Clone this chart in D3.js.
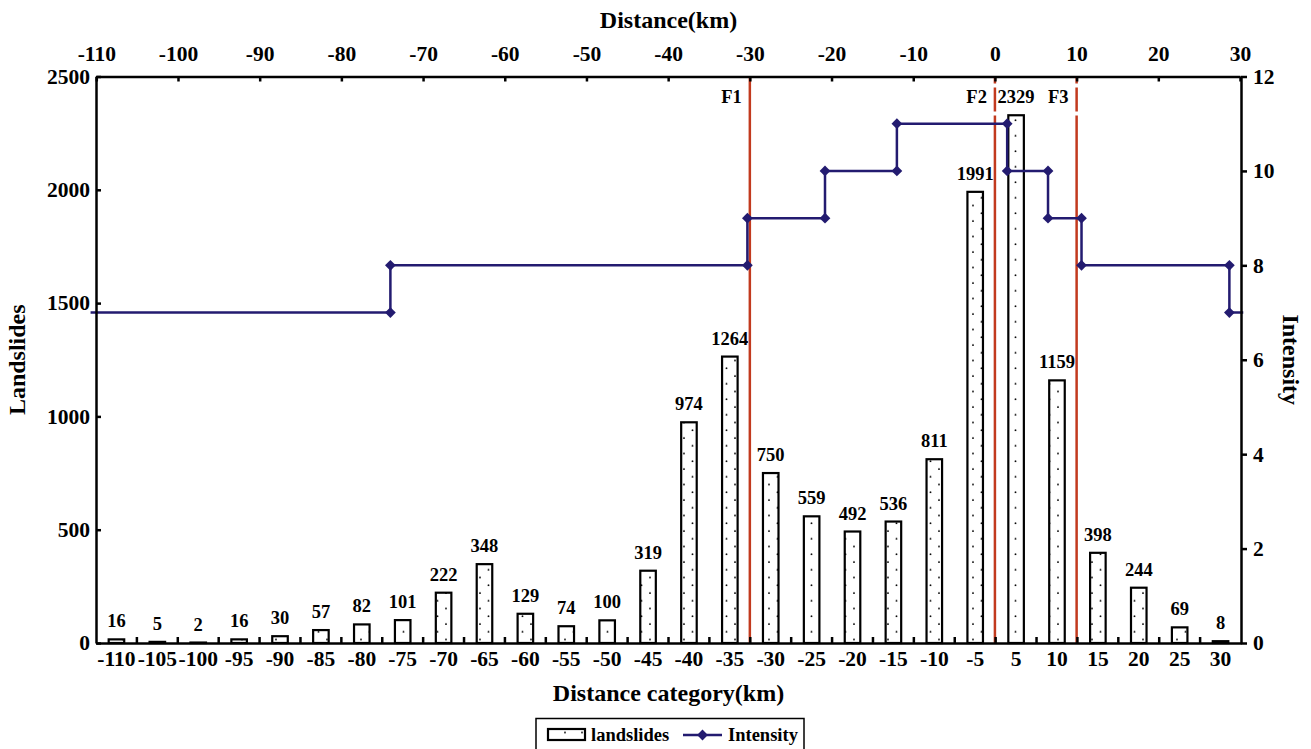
<!DOCTYPE html>
<html lang="en">
<head>
  <meta charset="UTF-8" />
  <title>Landslides and Intensity by Distance</title>
  <script src="https://d3js.org/d3.v7.min.js"></script>
  <style>
    body {
      margin: 0;
      padding: 0;
      background: white;
    }
    svg {
      display: block;
      font-family: "Liberation Serif", "Times New Roman", serif;
      font-weight: bold;
    }
    .axis path, .axis line {
      stroke: black;
      stroke-width: 2.5;
    }
  </style>
</head>
<body>
  <svg id="chart" width="1311" height="749"></svg>

  <script>
    // Data
    const categories = ["-110", "-105", "-100", "-95", "-90", "-85", "-80", "-75", "-70", "-65",
      "-60", "-55", "-50", "-45", "-40", "-35", "-30", "-25", "-20", "-15",
      "-10", "-5", "5", "10", "15", "20", "25", "30"];
    const landslides = [16, 5, 2, 16, 30, 57, 82, 101, 222, 348,
      129, 74, 100, 319, 974, 1264, 750, 559, 492, 536,
      811, 1991, 2329, 1159, 398, 244, 69, 8];

    // Intensity step line, placed on the top distance axis
    const markerDist = [-74, -74, -30.3, -30.3, -20.8, -20.8, -12, -12, 1.5, 1.5, 6.5, 6.5, 10.6, 10.6, 28.7, 28.7];
    const markerIntensity = [7, 8, 8, 9, 9, 10, 10, 11, 11, 10, 10, 9, 9, 8, 8, 7];
    const lineStart = -110.7;
    const lineEnd = 30.4;

    const faultNames = ["F1", "F2", "F3"];
    const faultDist = [-30, 0, 10];

    const topTicks = [-110, -100, -90, -80, -70, -60, -50, -40, -30, -20, -10, 0, 10, 20, 30];
    const leftTicks = [0, 500, 1000, 1500, 2000, 2500];
    const rightTicks = [0, 2, 4, 6, 8, 10, 12];

    const svg = d3.select("#chart");
    const pLeft = 96, pRight = 1241, pTop = 76.5, pBottom = 643;
    const lineColor = "#231b70";
    const faultColor = "#c23a1e";
    const fontFam = '"Liberation Serif", "Times New Roman", serif';

    const x = d3.scaleBand().domain(categories).range([pLeft, pRight]).padding(0);
    const xDist = d3.scaleLinear().domain([-110, 30]).range([pLeft + 0.3, pRight - 1]);
    const yL = d3.scaleLinear().domain([0, 2500]).range([pBottom, pTop]);
    const yR = d3.scaleLinear().domain([0, 12]).range([pBottom, pTop]);

    // dotted fill for the bars
    const pat = svg.append("defs").append("pattern")
      .attr("id", "dots")
      .attr("patternUnits", "userSpaceOnUse")
      .attr("width", 17)
      .attr("height", 15.5);
    pat.append("rect").attr("width", 17).attr("height", 15.5).attr("fill", "white");
    pat.append("circle").attr("cx", 4).attr("cy", 4).attr("r", 0.95).attr("fill", "black");
    pat.append("circle").attr("cx", 12.5).attr("cy", 11.75).attr("r", 0.95).attr("fill", "black");

    const barW = x.bandwidth() * 0.38;

    svg.selectAll("rect.bar")
      .data(landslides)
      .enter()
      .append("rect")
      .attr("class", "bar")
      .attr("x", (d, i) => x(categories[i]) + x.bandwidth() / 2 - barW / 2)
      .attr("y", d => yL(d))
      .attr("width", barW)
      .attr("height", d => pBottom - yL(d))
      .attr("fill", "url(#dots)")
      .attr("stroke", "black")
      .attr("stroke-width", 2.2);

    svg.selectAll("text.val")
      .data(landslides)
      .enter()
      .append("text")
      .attr("class", "val")
      .attr("x", (d, i) => x(categories[i]) + x.bandwidth() / 2)
      .attr("y", d => yL(d) - 12)
      .attr("text-anchor", "middle")
      .style("font-size", "18.5px")
      .text(d => d);

    // fault lines
    svg.selectAll("line.fault")
      .data(faultDist)
      .enter()
      .append("line")
      .attr("class", "fault")
      .attr("x1", d => xDist(d)).attr("x2", d => xDist(d))
      .attr("y1", pTop).attr("y2", pBottom)
      .attr("stroke", faultColor)
      .attr("stroke-width", 2.5)
      .attr("stroke-dasharray", (d, i) => i === 0 ? null : "7 4 24 4 600 0");

    svg.selectAll("text.fault")
      .data(faultDist)
      .enter()
      .append("text")
      .attr("class", "fault")
      .attr("x", d => xDist(d) - 8)
      .attr("y", 103)
      .attr("text-anchor", "end")
      .style("font-size", "18.5px")
      .text((d, i) => faultNames[i]);

    // intensity line
    const pts = [[lineStart, 7]].concat(markerDist.map((d, i) => [d, markerIntensity[i]]), [[lineEnd, 7]]);
    svg.append("path")
      .datum(pts)
      .attr("fill", "none")
      .attr("stroke", lineColor)
      .attr("stroke-width", 2.5)
      .attr("d", d3.line().x(d => xDist(d[0])).y(d => yR(d[1])));

    const diamond = d3.symbol().type(d3.symbolSquare).size(58);
    svg.selectAll("path.mk")
      .data(markerDist)
      .enter()
      .append("path")
      .attr("class", "mk")
      .attr("d", diamond)
      .attr("transform", (d, i) => `translate(${xDist(d)},${yR(markerIntensity[i])}) rotate(45)`)
      .attr("fill", lineColor);

    // axes
    function styleAxis(g) {
      g.attr("font-family", fontFam).attr("font-size", 21.5).attr("font-weight", "bold");
      g.selectAll("text").attr("fill", "black");
    }
    const plain = d => String(d);

    svg.append("g")
      .attr("class", "axis")
      .attr("transform", `translate(0,${pBottom})`)
      .call(d3.axisBottom(x).tickSizeInner(0).tickSizeOuter(0).tickPadding(8))
      .call(styleAxis);

    svg.selectAll("line.btick")
      .data(categories.slice(1))
      .enter()
      .append("line")
      .attr("class", "btick")
      .attr("x1", d => x(d)).attr("x2", d => x(d))
      .attr("y1", pBottom).attr("y2", pBottom - 6)
      .attr("stroke", "black")
      .attr("stroke-width", 2.5);

    svg.append("g")
      .attr("class", "axis")
      .attr("transform", `translate(0,${pTop})`)
      .call(d3.axisTop(xDist).tickValues(topTicks).tickFormat(plain).tickSizeInner(-5).tickSizeOuter(0).tickPadding(16))
      .call(styleAxis);

    svg.append("g")
      .attr("class", "axis")
      .attr("transform", `translate(${pLeft},0)`)
      .call(d3.axisLeft(yL).tickValues(leftTicks).tickFormat(plain).tickSizeInner(-5).tickSizeOuter(0).tickPadding(6))
      .call(styleAxis);

    svg.append("g")
      .attr("class", "axis")
      .attr("transform", `translate(${pRight},0)`)
      .call(d3.axisRight(yR).tickValues(rightTicks).tickFormat(plain).tickSizeInner(6).tickSizeOuter(0).tickPadding(6))
      .call(styleAxis);

    // axis titles
    svg.append("text")
      .attr("x", (pLeft + pRight) / 2).attr("y", 28)
      .attr("text-anchor", "middle")
      .style("font-size", "24px")
      .text("Distance(km)");

    svg.append("text")
      .attr("x", (pLeft + pRight) / 2).attr("y", 701)
      .attr("text-anchor", "middle")
      .style("font-size", "24px")
      .text("Distance category(km)");

    svg.append("text")
      .attr("transform", `translate(25,${(pTop + pBottom) / 2}) rotate(-90)`)
      .attr("text-anchor", "middle")
      .style("font-size", "24px")
      .text("Landslides");

    svg.append("text")
      .attr("transform", `translate(1283,${(pTop + pBottom) / 2}) rotate(90)`)
      .attr("text-anchor", "middle")
      .style("font-size", "24px")
      .text("Intensity");

    // legend
    const lg = svg.append("g").style("font-weight", "bold");
    lg.append("rect")
      .attr("x", 536).attr("y", 718.5)
      .attr("width", 268).attr("height", 40)
      .attr("fill", "white").attr("stroke", "black").attr("stroke-width", 1.5);
    lg.append("rect")
      .attr("x", 548).attr("y", 729)
      .attr("width", 37).attr("height", 11)
      .attr("fill", "url(#dots)").attr("stroke", "black").attr("stroke-width", 2.2);
    lg.append("text").attr("x", 591).attr("y", 741).style("font-size", "18.5px").text("landslides");
    lg.append("line")
      .attr("x1", 683).attr("x2", 722).attr("y1", 735).attr("y2", 735)
      .attr("stroke", lineColor).attr("stroke-width", 2.5);
    lg.append("path")
      .attr("d", diamond)
      .attr("transform", "translate(702.5,735) rotate(45)")
      .attr("fill", lineColor);
    lg.append("text").attr("x", 728).attr("y", 741).style("font-size", "18.5px").text("Intensity");
  </script>
</body>
</html>
